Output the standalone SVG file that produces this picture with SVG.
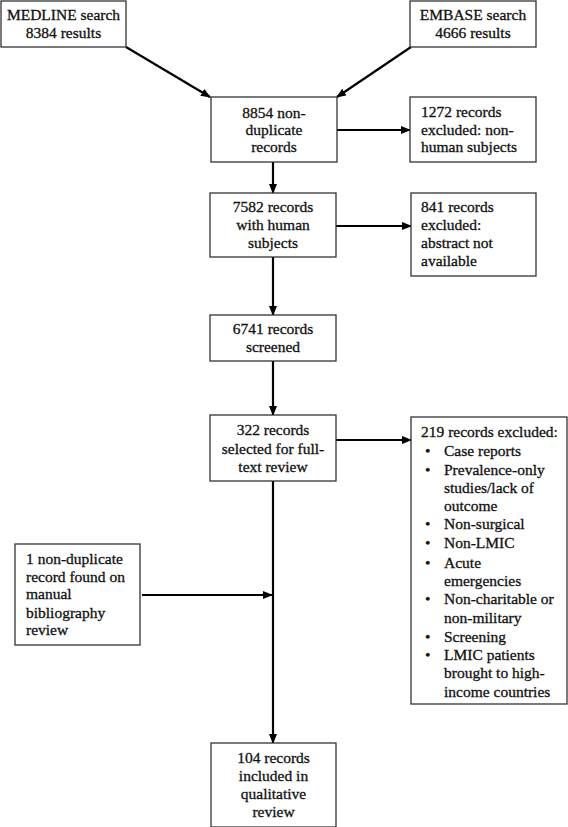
<svg xmlns="http://www.w3.org/2000/svg" width="568" height="827" viewBox="0 0 568 827">
<defs>
<marker id="ah" markerWidth="10" markerHeight="8" refX="9" refY="4" orient="auto" markerUnits="userSpaceOnUse">
<path d="M0,0 L10,4 L0,8 Z" fill="#000"/>
</marker>
<style>
.box{fill:#fff;stroke:#333;stroke-width:1.3}
.t{font-family:"Liberation Serif","DejaVu Serif",serif;font-size:15.5px;fill:#111;stroke:#111;stroke-width:0.3}
.c{text-anchor:middle}
.ln{stroke:#000;stroke-width:2.2;fill:none}
.ar{stroke:#000;stroke-width:2.2;fill:none;marker-end:url(#ah)}
</style>
</defs>
<rect width="568" height="827" fill="#fff"/>
<g id="connectors">
<line class="ar" x1="126" y1="47" x2="210" y2="97"/>
<line class="ar" x1="411" y1="47" x2="337" y2="97"/>
<line class="ar" x1="337" y1="130" x2="410" y2="130"/>
<line class="ar" x1="273" y1="162" x2="273" y2="193"/>
<line class="ar" x1="336" y1="226" x2="411" y2="226"/>
<line class="ar" x1="273" y1="257" x2="273" y2="315"/>
<line class="ar" x1="273" y1="361" x2="273" y2="415"/>
<line class="ar" x1="336" y1="440" x2="411" y2="440"/>
<line class="ar" x1="273" y1="481" x2="273" y2="743"/>
<line class="ar" x1="142" y1="595" x2="272" y2="595"/>
</g>
<g id="medline">
<rect class="box" x="1" y="1" width="125" height="46"/>
<text class="t c"><tspan x="63.5" y="20">MEDLINE search</tspan><tspan x="63.5" y="38">8384 results</tspan></text>
</g>
<g id="embase">
<rect class="box" x="410" y="1" width="126" height="46"/>
<text class="t c"><tspan x="473" y="20">EMBASE search</tspan><tspan x="473" y="38">4666 results</tspan></text>
</g>
<g id="nondup">
<rect class="box" x="211" y="97" width="126" height="65"/>
<text class="t c"><tspan x="274" y="118">8854 non-</tspan><tspan x="274" y="135">duplicate</tspan><tspan x="274" y="152">records</tspan></text>
</g>
<g id="excl1272">
<rect class="box" x="410" y="97" width="126" height="65"/>
<text class="t"><tspan x="421" y="117">1272 records</tspan><tspan x="421" y="135">excluded: non-</tspan><tspan x="421" y="152">human subjects</tspan></text>
</g>
<g id="human">
<rect class="box" x="210" y="193" width="126" height="64"/>
<text class="t c"><tspan x="273" y="212">7582 records</tspan><tspan x="273" y="230">with human</tspan><tspan x="273" y="248">subjects</tspan></text>
</g>
<g id="excl841">
<rect class="box" x="411" y="193" width="125" height="83"/>
<text class="t"><tspan x="421" y="212">841 records</tspan><tspan x="421" y="230">excluded:</tspan><tspan x="421" y="248">abstract not</tspan><tspan x="421" y="266">available</tspan></text>
</g>
<g id="screened">
<rect class="box" x="210" y="315" width="126" height="46"/>
<text class="t c"><tspan x="273" y="334">6741 records</tspan><tspan x="273" y="352">screened</tspan></text>
</g>
<g id="fulltext">
<rect class="box" x="210" y="415" width="126" height="66"/>
<text class="t c"><tspan x="273" y="435">322 records</tspan><tspan x="273" y="454">selected for full-</tspan><tspan x="273" y="472">text review</tspan></text>
</g>
<g id="excl219">
<rect class="box" x="411" y="417" width="156" height="287"/>
<text class="t"><tspan x="421" y="437">219 records excluded:</tspan></text>
<text class="t" x="425" y="456">•</text>
<text class="t" x="425" y="475">•</text>
<text class="t" x="425" y="529">•</text>
<text class="t" x="425" y="548">•</text>
<text class="t" x="425" y="568">•</text>
<text class="t" x="425" y="604">•</text>
<text class="t" x="425" y="642">•</text>
<text class="t" x="425" y="660">•</text>
<text class="t"><tspan x="444" y="456">Case reports</tspan><tspan x="444" y="475">Prevalence-only</tspan><tspan x="444" y="493">studies/lack of</tspan><tspan x="444" y="511">outcome</tspan><tspan x="444" y="529">Non-surgical</tspan><tspan x="444" y="548">Non-LMIC</tspan><tspan x="444" y="568">Acute</tspan><tspan x="444" y="586">emergencies</tspan><tspan x="444" y="604">Non-charitable or</tspan><tspan x="444" y="623">non-military</tspan><tspan x="444" y="642">Screening</tspan><tspan x="444" y="660">LMIC patients</tspan><tspan x="444" y="678">brought to high-</tspan><tspan x="444" y="697">income countries</tspan></text>
</g>
<g id="manual">
<rect class="box" x="15" y="544" width="125" height="101"/>
<text class="t"><tspan x="26" y="564">1 non-duplicate</tspan><tspan x="26" y="582">record found on</tspan><tspan x="26" y="599">manual</tspan><tspan x="26" y="618">bibliography</tspan><tspan x="26" y="635">review</tspan></text>
</g>
<g id="included">
<rect class="box" x="211" y="743" width="125" height="84"/>
<text class="t c"><tspan x="273.5" y="763">104 records</tspan><tspan x="273.5" y="781">included in</tspan><tspan x="273.5" y="799">qualitative</tspan><tspan x="273.5" y="817">review</tspan></text>
</g>
</svg>
